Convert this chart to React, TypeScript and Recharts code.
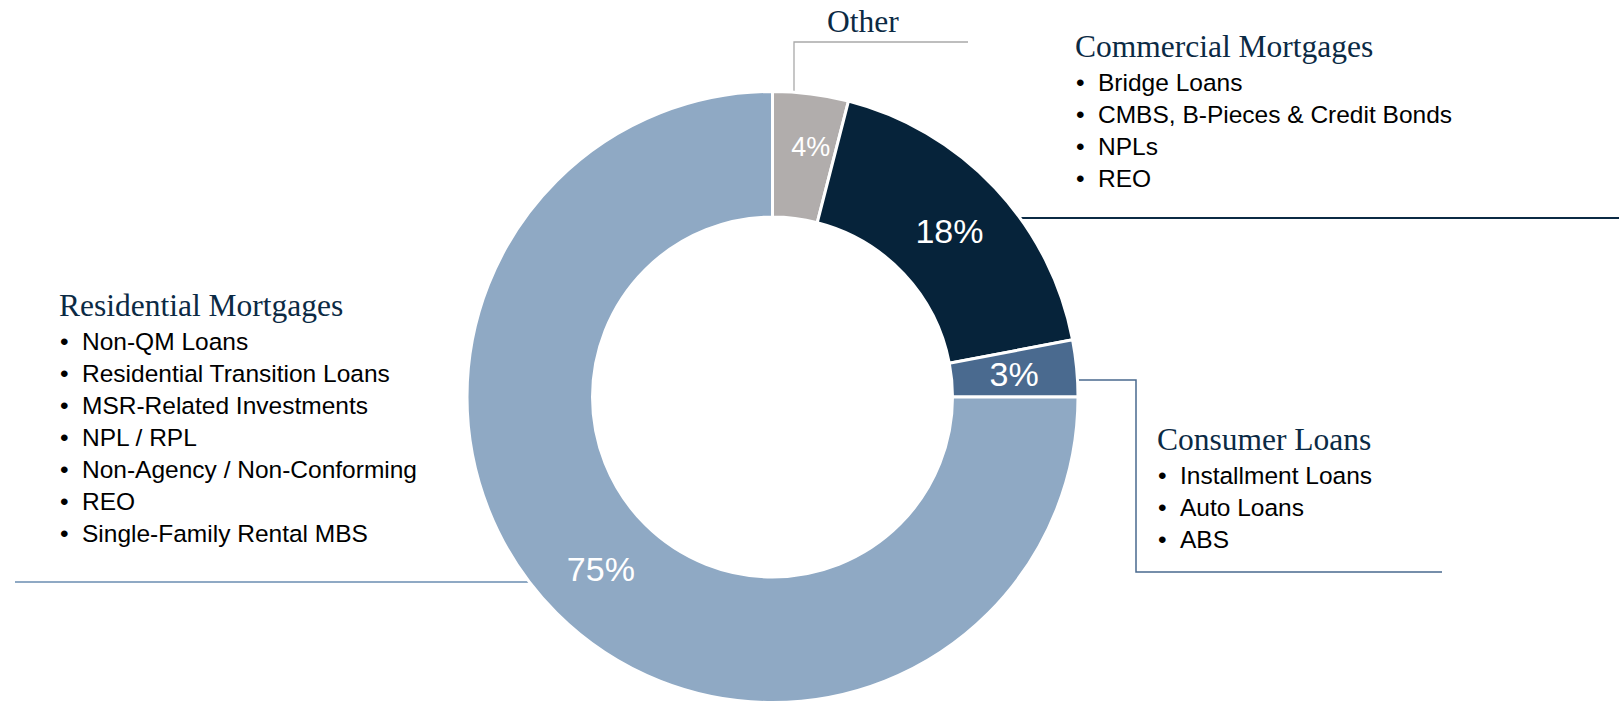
import React from 'react';
import { PieChart, Pie, Cell } from 'recharts';

const W = 1619;
const H = 702;

// slices, clockwise from 12 o'clock
const segments = ['Other', 'Commercial Mortgages', 'Consumer Loans', 'Residential Mortgages'];
const shares = [4, 18, 3, 75];

const commercialItems = ['Bridge Loans', 'CMBS, B-Pieces & Credit Bonds', 'NPLs', 'REO'];
const consumerItems = ['Installment Loans', 'Auto Loans', 'ABS'];
const residentialItems = [
  'Non-QM Loans',
  'Residential Transition Loans',
  'MSR-Related Investments',
  'NPL / RPL',
  'Non-Agency / Non-Conforming',
  'REO',
  'Single-Family Rental MBS',
];

const COLORS: Record<string, string> = {
  'Other': '#B1ADAC',
  'Commercial Mortgages': '#06233A',
  'Consumer Loans': '#4A6A8F',
  'Residential Mortgages': '#8FA9C4',
};

const NAVY_TEXT = '#0B2A44';
const headFont = '"Liberation Serif", "DejaVu Serif", serif';
const bodyFont = '"Liberation Sans", Arial, sans-serif';

const data = segments.map((name, i) => ({ name, value: shares[i] }));

const RAD = Math.PI / 180;

function renderLabel(props: any) {
  const { cx, cy, midAngle, innerRadius, outerRadius, value, name } = props;
  const small = name === 'Other';
  const r = (innerRadius + outerRadius) / 2 + (small ? 10 : 0);
  const a = midAngle - (small ? 1.5 : 0);
  const x = cx + r * Math.cos(-a * RAD);
  const y = cy + r * Math.sin(-a * RAD);
  return (
    <text
      x={x}
      y={y}
      fill="#ffffff"
      textAnchor="middle"
      dominantBaseline="central"
      fontFamily={bodyFont}
      fontSize={small ? 27 : 34}
    >
      {value}%
    </text>
  );
}

function Block({ title, items, x, y }: { title: string; items: string[]; x: number; y: number }) {
  return (
    <g>
      <text x={x} y={y} fontFamily={headFont} fontSize={31.5} fill={NAVY_TEXT}>{title}</text>
      {items.map((t, i) => (
        <g key={t + i}>
          <text x={x + 1} y={y + 34 + i * 32} fontFamily={bodyFont} fontSize={24.5} fill="#000">•</text>
          <text x={x + 23} y={y + 34 + i * 32} fontFamily={bodyFont} fontSize={24.5} fill="#000">{t}</text>
        </g>
      ))}
    </g>
  );
}

export default function App() {
  const cx = 772.5;
  const cy = 397;
  return (
    <div style={{ position: 'fixed', left: 0, top: 0, width: W, height: H, background: '#fff' }}>
      <svg width={W} height={H} style={{ position: 'absolute', left: 0, top: 0 }}>
        {/* leader lines */}
        <path d="M794,92 V42 H968" fill="none" stroke="#A9A9A9" strokeWidth={1.3} />
        <path d="M1018,218 H1619" fill="none" stroke="#0B2A44" strokeWidth={2} />
        <path d="M1076,380 H1136 V572 H1442" fill="none" stroke="#4A6A8F" strokeWidth={1.5} />
        <path d="M15,582 H532" fill="none" stroke="#8FA9C4" strokeWidth={2} />

        <text x={827} y={32} fontFamily={headFont} fontSize={31.5} fill={NAVY_TEXT}>Other</text>
        <Block title="Commercial Mortgages" items={commercialItems} x={1075} y={57} />
        <Block title="Consumer Loans" items={consumerItems} x={1157} y={450} />
        <Block title="Residential Mortgages" items={residentialItems} x={59} y={316} />
      </svg>
      <div style={{ position: 'absolute', left: 0, top: 0 }}>
        <PieChart width={W} height={H} margin={{ top: 0, right: 0, bottom: 0, left: 0 }}>
          <Pie
            data={data}
            dataKey="value"
            nameKey="name"
            cx={cx}
            cy={cy}
            innerRadius={180}
            outerRadius={305.5}
            startAngle={90}
            endAngle={-270}
            stroke="#ffffff"
            strokeWidth={3}
            label={renderLabel}
            labelLine={false}
            isAnimationActive={false}
          >
            {data.map((d) => (
              <Cell key={d.name} fill={COLORS[d.name]} />
            ))}
          </Pie>
        </PieChart>
      </div>
    </div>
  );
}
